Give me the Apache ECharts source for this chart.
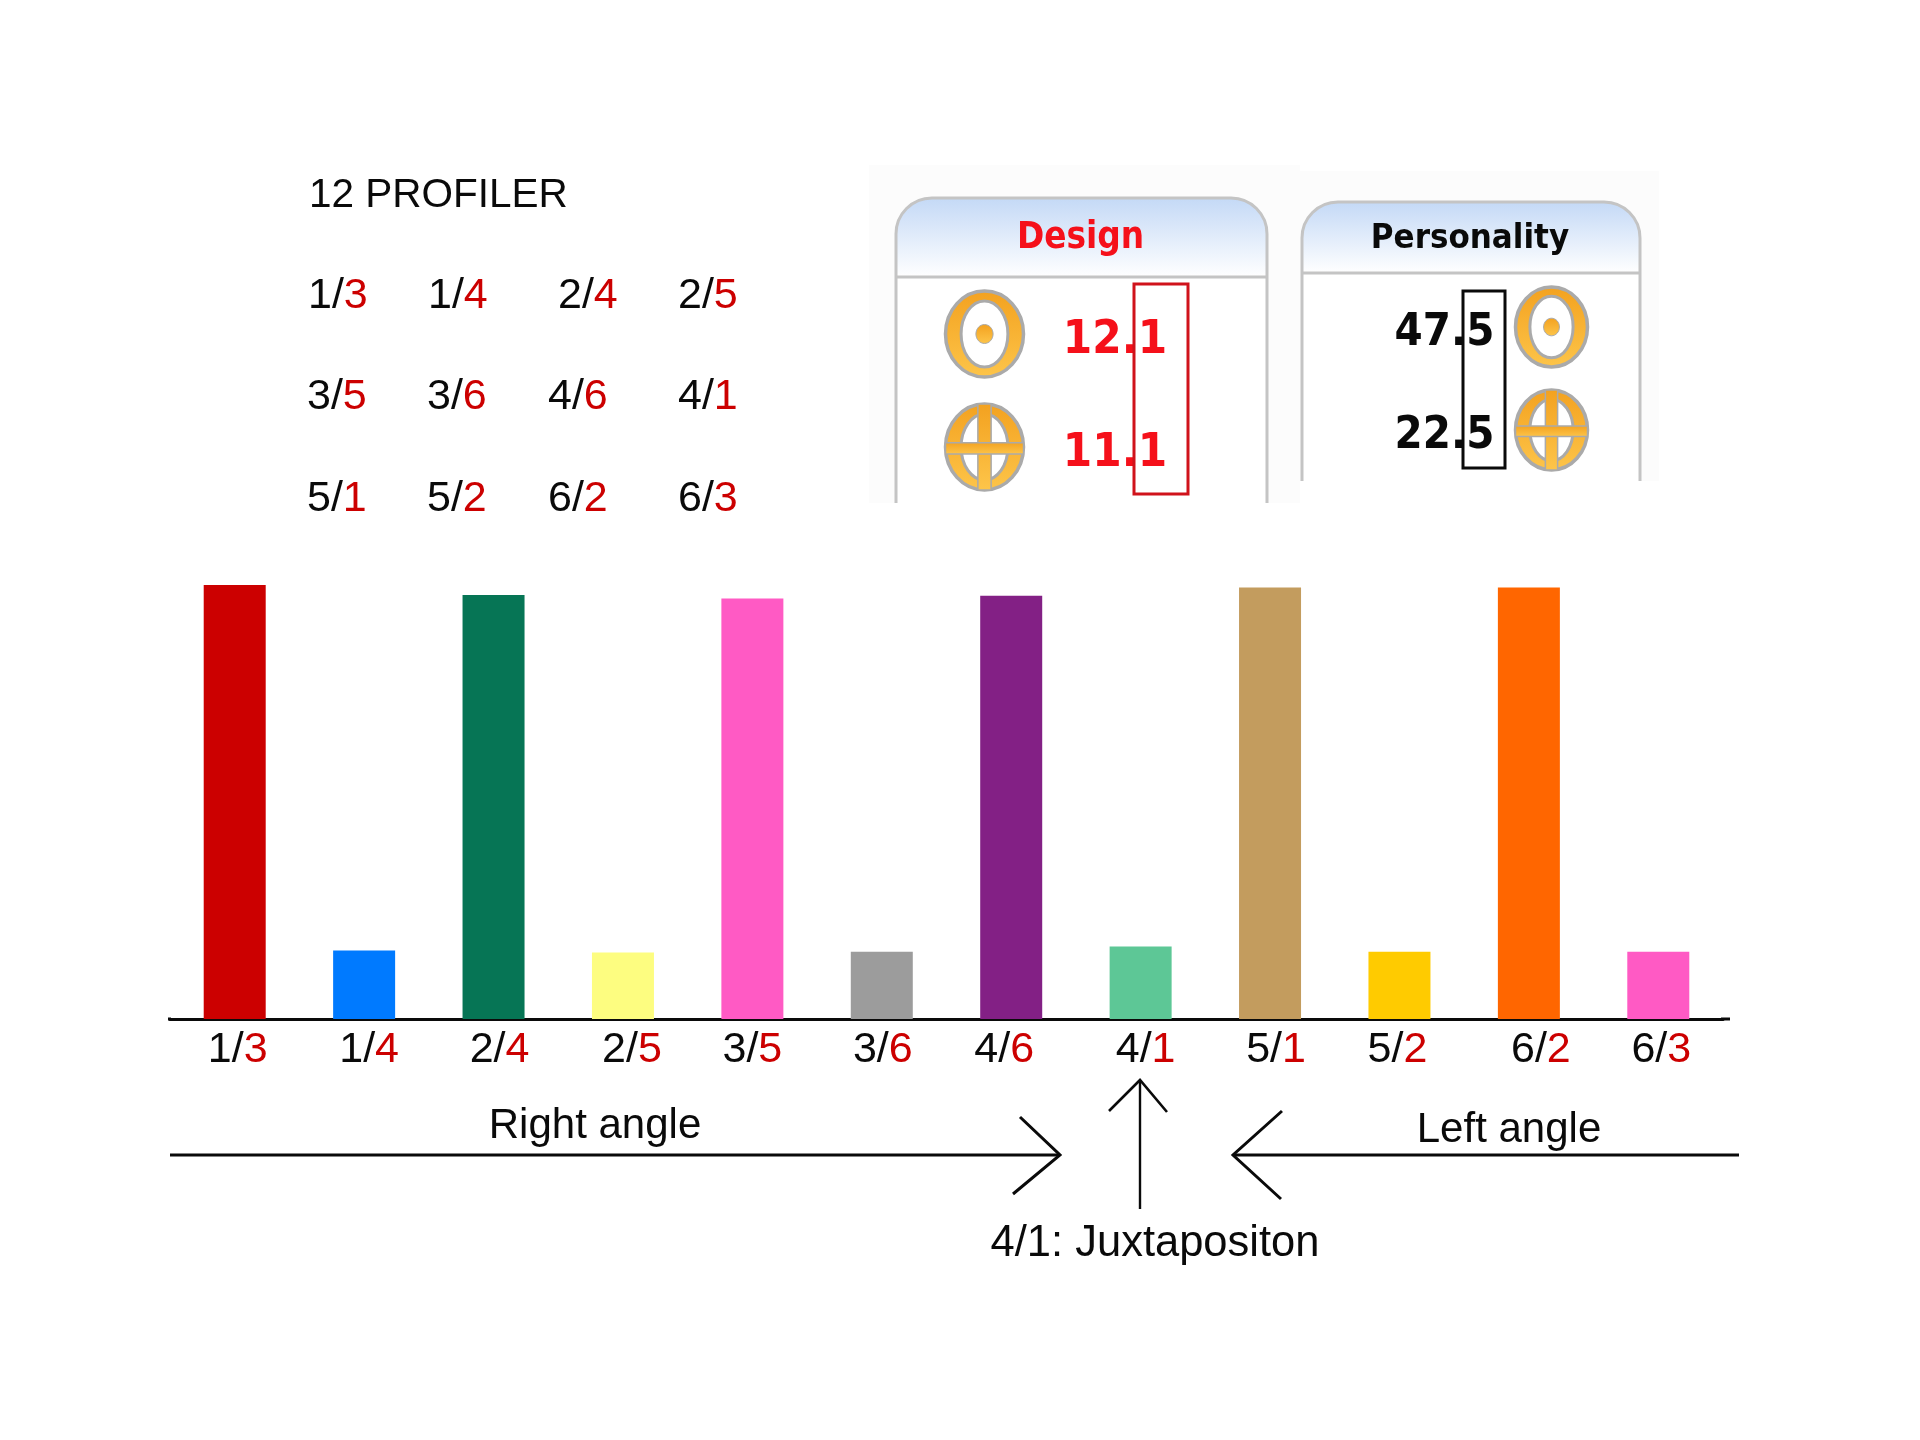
<!DOCTYPE html>
<html><head><meta charset="utf-8">
<style>html,body{margin:0;padding:0;background:#fff}#c{width:1920px;height:1440px}</style>
<script src="https://cdn.jsdelivr.net/npm/echarts@6/dist/echarts.min.js"></script>
</head><body><div id="c"></div>
<script>
// ---- data ----
const categories = ['1/3','1/4','2/4','2/5','3/5','3/6','4/6','4/1','5/1','5/2','6/2','6/3'];
const values = [100,15.8,97.7,15.3,96.9,15.5,97.5,16.7,99.4,15.5,99.4,15.5];
const barColors = ['#cc0000','#007aff','#067555','#fdfd80','#ff5ac4','#9c9c9c','#832085','#5dc796','#c39c5e','#ffcb00','#ff6600','#ff5ac4'];
const profileRows = [['1/3','1/4','2/4','2/5'],['3/5','3/6','4/6','4/1'],['5/1','5/2','6/2','6/3']];
const designValues = ['12.1','11.1'];
const personalityValues = ['47.5','22.5'];

// ---- layout / style ----
const FONT='"Liberation Sans",Arial,sans-serif', UI='"DejaVu Sans Condensed","DejaVu Sans",sans-serif';
const FS=42, FSL=43, RED='#cc0000', INK='#0a0a0a', GREY='#c4c4c4', ICON='#aaaaaa';
const labelNudge=[3,5,6,9,0,1,-7,5,6,-2,12,3];
const colX=[[308,428,558,678],[307,427,548,678],[307,427,548,678]], rowY=[296,397,499];

const T=(text,x,y,o={})=>({type:'text',z:10,x,y,style:Object.assign({text,fill:INK,fontFamily:FONT,fontSize:FS,textAlign:'center',textVerticalAlign:'middle'},o)});
const L=(pts,o={})=>({type:'polyline',z:5,shape:{points:pts},style:Object.assign({stroke:'#0a0a0a',lineWidth:3,fill:null},o)});
const frac=s=>{const[a,b]=s.split('/');return a+'/{r|'+b+'}';};
const orange=()=>new echarts.graphic.LinearGradient(0,0,0,1,[{offset:0,color:'#f3a11f'},{offset:1,color:'#fdc54a'}]);

const g=[];
// profile list
g.push(T('12 PROFILER',309,195.5,{textAlign:'left',fontSize:40.5}));
profileRows.forEach((row,i)=>row.forEach((p,j)=>g.push(T(frac(p),colX[i][j],rowY[i],{textAlign:'left',fontSize:FSL,rich:{r:{fill:RED,fontFamily:FONT,fontSize:FSL}}}))));

// panels
function panel(bx,by,bw,bh,x,y,w,hh,title,color,fs){
  const r=36,b=by+bh;
  g.push({type:'rect',z:1,shape:{x:bx,y:by,width:bw,height:bh},style:{fill:'#fcfcfc'}});
  g.push({type:'rect',z:2,shape:{x,y,width:w,height:b-y,r:[r,r,0,0]},style:{fill:'#fff'}});
  g.push({type:'rect',z:2,shape:{x,y,width:w,height:hh,r:[r,r,0,0]},style:{fill:new echarts.graphic.LinearGradient(0,0,0,1,[{offset:0,color:'#c4d9f6'},{offset:1,color:'#ffffff'}])}});
  const edge={stroke:GREY,lineWidth:3,fill:null};
  g.push({type:'polyline',z:3,shape:{points:[[x,b],[x,y+r]]},style:edge});
  g.push({type:'polyline',z:3,shape:{points:[[x+r,y],[x+w-r,y]]},style:edge});
  g.push({type:'polyline',z:3,shape:{points:[[x+w,y+r],[x+w,b]]},style:edge});
  g.push({type:'arc',z:3,shape:{cx:x+r,cy:y+r,r,startAngle:Math.PI,endAngle:1.5*Math.PI},style:edge});
  g.push({type:'arc',z:3,shape:{cx:x+w-r,cy:y+r,r,startAngle:1.5*Math.PI,endAngle:2*Math.PI},style:edge});
  g.push({type:'line',z:3,shape:{x1:x,y1:y+hh,x2:x+w,y2:y+hh},style:{stroke:GREY,lineWidth:3}});
  g.push(T(title,x+w/2-1,239,{fontFamily:UI,fontWeight:'bold',fontSize:fs,fill:color}));
}
panel(869,165,431,338,896,198,371,79,'Design','#f5101a',36.5);
panel(1300,171,359,310,1302,202,338,71,'Personality','#0a0a0a',34.5);

// icons
function icon(cx,cy,rx,ry,kind){
  g.push({type:'ellipse',z:4,shape:{cx,cy,rx,ry},style:{fill:orange(),stroke:ICON,lineWidth:3.5}});
  g.push({type:'ellipse',z:5,shape:{cx,cy,rx:rx*0.6,ry:ry*0.77},style:{fill:'#fff',stroke:ICON,lineWidth:3}});
  if(kind==='dot'){
    g.push({type:'ellipse',z:6,shape:{cx,cy,rx:rx*0.22,ry:ry*0.22},style:{fill:orange(),stroke:ICON,lineWidth:1}});
  }else{
    g.push({type:'rect',z:6,shape:{x:cx-rx*0.17,y:cy-ry,width:rx*0.34,height:ry*2},style:{fill:orange(),stroke:ICON,lineWidth:1.5}});
    g.push({type:'rect',z:6,shape:{x:cx-rx,y:cy-ry*0.1,width:rx*2,height:ry*0.26},style:{fill:orange(),stroke:ICON,lineWidth:1.5}});
  }
}
icon(984.5,334,39,43,'dot'); icon(984.5,447,39,43,'cross');
icon(1551.5,327,36,40,'dot'); icon(1551.5,430,36,40,'cross');

// panel numbers + highlight boxes
designValues.forEach((v,i)=>g.push(T(v,1115,[341,454][i],{fontFamily:UI,fontWeight:'bold',fontSize:47,fill:'#f5101a'})));
personalityValues.forEach((v,i)=>g.push(T(v,1444.5,[333,436][i],{fontFamily:UI,fontWeight:'bold',fontSize:45})));
g.push({type:'rect',z:11,shape:{x:1134,y:284,width:54,height:210},style:{fill:null,stroke:'#d0121b',lineWidth:3}});
g.push({type:'rect',z:11,shape:{x:1463,y:291,width:42,height:177},style:{fill:null,stroke:'#0a0a0a',lineWidth:3}});

// baseline stubs + arrows
g.push(L([[168,1019],[171,1019]]),L([[1721,1019],[1730,1019]]));
g.push(L([[170,1155],[1060,1155]]),L([[1020,1117],[1060,1155],[1013,1194]]));
g.push(L([[1140,1209],[1140,1080]],{lineWidth:2.4}),L([[1109,1111],[1140,1080],[1167,1112]],{lineWidth:2.6}));
g.push(L([[1233,1155],[1739,1155]]),L([[1282,1111],[1233,1155],[1281,1199]]));
g.push(T('Right angle',595,1126.5),T('Left angle',1509,1130),T('4/1: Juxtapositon',1155,1244,{fontSize:43.5}));

// nudged axis label styles
const rich={};
labelNudge.forEach((n,i)=>{
  rich['k'+i]={fontFamily:FONT,fontSize:FSL,color:INK,padding:[0,0,0,n>0?2*n:0]};
  rich['r'+i]={fontFamily:FONT,fontSize:FSL,color:RED,padding:[0,n<0?-2*n:0,0,0]};
});

const chart=echarts.init(document.getElementById('c'),null,{renderer:'canvas'});
chart.setOption({
  animation:false,
  backgroundColor:'#fff',
  grid:{left:170,width:1553,top:585,height:434},
  xAxis:{type:'category',data:categories,
    axisLine:{show:true,lineStyle:{color:'#0a0a0a',width:3}},axisTick:{show:false},
    axisLabel:{interval:0,margin:10,fontFamily:FONT,fontSize:FSL,rich,
      formatter:(v,i)=>{const[a,b]=v.split('/');return `{k${i}|${a}/}{r${i}|${b}}`;}}},
  yAxis:{type:'value',min:0,max:100,show:false,splitLine:{show:false}},
  series:[{type:'bar',barWidth:62,
    data:values.map((v,i)=>({value:v,itemStyle:{color:barColors[i]}}))}],
  graphic:g
});
</script></body></html>
